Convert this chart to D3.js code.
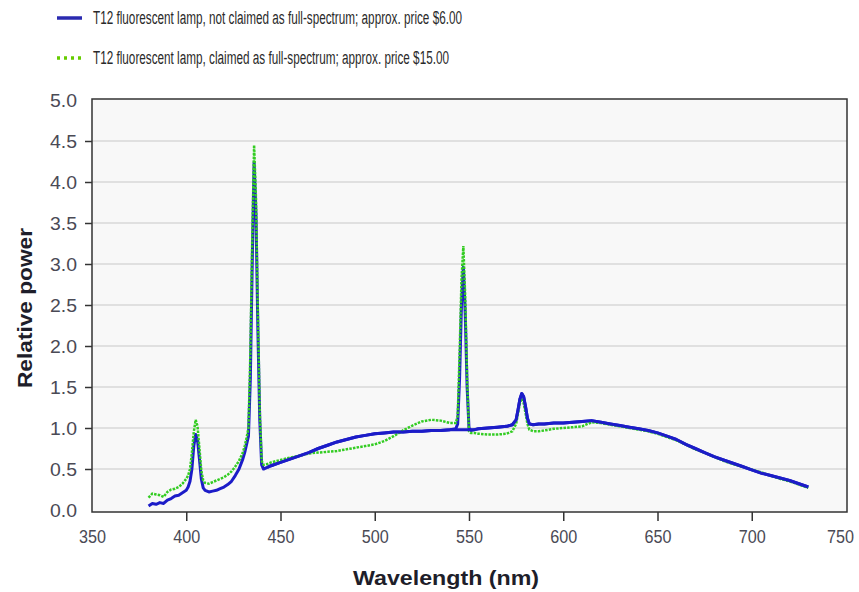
<!DOCTYPE html>
<html>
<head>
<meta charset="utf-8">
<script src="https://cdn.jsdelivr.net/npm/d3@7"></script>
<style>
  body { margin: 0; background: #fff; }
  svg { display: block; }
</style>
</head>
<body>
<div class="chart"></div>
<script>
// data
var wavelengths = [
  380, 382, 384, 386, 388, 390, 392, 394, 396, 398,
  400, 401, 402, 403, 404, 405, 406, 407, 408, 409, 410,
  412, 414, 416, 418, 420, 422, 424, 426, 428, 430,
  431, 432, 433, 434, 435, 436, 437, 438, 439, 440, 441,
  443, 445, 450, 455, 460, 465, 470, 475, 480, 485, 490, 495, 500, 505, 510, 515, 520, 525, 530, 535, 540,
  543, 544, 545, 546, 547, 548, 549, 550, 551,
  553, 555, 560, 565, 570, 573, 575, 576, 577, 578, 579, 580, 581, 582, 584, 587, 590, 595, 600, 605, 610, 615,
  620, 625, 630, 635, 640, 645, 650, 655, 660, 665, 670, 675, 680, 685, 690, 695, 700, 705, 710, 715, 720, 725, 730
];
var notFullSpectrum = [
  0.05, 0.08, 0.07, 0.09, 0.08, 0.12, 0.14, 0.17, 0.18, 0.21,
  0.24, 0.28, 0.35, 0.5, 0.78, 0.92, 0.85, 0.62, 0.38, 0.27, 0.24,
  0.22, 0.23, 0.24, 0.26, 0.28, 0.31, 0.35, 0.42, 0.5, 0.62,
  0.7, 0.8, 0.9, 1.6, 3.0, 4.24, 3.6, 2.2, 1.1, 0.55, 0.5,
  0.52, 0.54, 0.58, 0.62, 0.66, 0.7, 0.75, 0.79, 0.83, 0.86, 0.89, 0.91, 0.93, 0.94, 0.95, 0.95, 0.96, 0.96, 0.97, 0.97, 0.98,
  0.99, 1.05, 1.6, 2.5, 2.96, 2.4, 1.5, 1.0, 0.97,
  0.98, 0.99, 1.0, 1.01, 1.02, 1.04, 1.1, 1.22, 1.35, 1.42, 1.38, 1.26, 1.12, 1.05, 1.04, 1.05, 1.05, 1.06, 1.06, 1.07, 1.08, 1.09,
  1.07, 1.05, 1.03, 1.01, 0.99, 0.97, 0.94, 0.9, 0.86, 0.8, 0.75, 0.7, 0.65, 0.61, 0.57, 0.53, 0.49, 0.45, 0.42, 0.39, 0.36, 0.32, 0.28
];
var fullSpectrum = [
  0.15, 0.2, 0.19, 0.18, 0.16, 0.22, 0.25, 0.26, 0.28, 0.32,
  0.38, 0.42, 0.5, 0.7, 0.95, 1.1, 1.02, 0.75, 0.48, 0.36, 0.33,
  0.32, 0.34, 0.36, 0.38, 0.4, 0.43, 0.47, 0.53, 0.6, 0.7,
  0.78, 0.88, 1.0, 1.9, 3.3, 4.45, 3.8, 2.4, 1.2, 0.6, 0.55,
  0.56, 0.58, 0.61, 0.64, 0.66, 0.69, 0.7, 0.71, 0.72, 0.74, 0.76, 0.78, 0.8, 0.84, 0.9, 0.97, 1.03, 1.08, 1.1, 1.09, 1.06,
  1.06, 1.15, 1.9, 2.8, 3.22, 2.6, 1.6, 0.96, 0.94,
  0.94, 0.93, 0.92, 0.92, 0.93, 0.96, 1.05, 1.18, 1.3, 1.36, 1.3, 1.18, 1.05, 0.98, 0.96, 0.96, 0.97, 0.99, 1.0, 1.01, 1.02, 1.07,
  1.06, 1.04, 1.02, 1.0, 0.98, 0.96, 0.93, 0.89, 0.85, 0.8, 0.74, 0.7, 0.65, 0.6, 0.56, 0.53, 0.49, 0.46, 0.42, 0.38, 0.35, 0.31, 0.27
];
var xTicks = [350, 400, 450, 500, 550, 600, 650, 700, 750];
var yTicks = [0, 0.5, 1, 1.5, 2, 2.5, 3, 3.5, 4, 4.5, 5];
var legendLabels = [
  "T12 fluorescent lamp, not claimed as full-spectrum; approx. price $6.00",
  "T12 fluorescent lamp, claimed as full-spectrum; approx. price $15.00"
];
var legendWidths = [369, 356];

// 基本設定
var w = 859, h = 592;
var pLeft = 92, pRight = 847, pTop = 100, pBottom = 510;
var font = "'Liberation Sans', Arial, sans-serif";

var svg = d3.select(".chart").append("svg")
  .attr("width", w)
  .attr("height", h);

var x = d3.scaleLinear().domain([350, 750]).range([pLeft, pRight - 1]);
var y = d3.scaleLinear().domain([0, 5]).range([pBottom, pTop]);

// plot background
svg.append("rect")
  .attr("x", pLeft).attr("y", pTop - 1)
  .attr("width", pRight - pLeft).attr("height", pBottom - pTop + 3)
  .attr("fill", "#f8f8f8");

// gridlines
svg.append("g").selectAll("line")
  .data(yTicks.filter(function(d) { return d > 0 && d < 5; }))
  .enter().append("line")
  .attr("x1", pLeft).attr("x2", pRight)
  .attr("y1", function(d) { return y(d); })
  .attr("y2", function(d) { return y(d); })
  .attr("stroke", "#c8c8c8")
  .attr("stroke-width", 1.2);

// series
var line = d3.line()
  .x(function(d) { return x(d[0]); })
  .y(function(d) { return y(d[1]); });

var blue = d3.zip(wavelengths, notFullSpectrum);

svg.append("path")
  .datum(blue)
  .attr("d", line)
  .attr("fill", "none")
  .attr("stroke", "#1c1cc8")
  .attr("stroke-width", 3)
  .attr("stroke-linejoin", "round");

svg.append("path")
  .datum(d3.zip(wavelengths, fullSpectrum))
  .attr("d", line)
  .attr("fill", "none")
  .attr("stroke", "#33cc22")
  .attr("stroke-width", 2.5)
  .attr("stroke-dasharray", "2.5,1.2");

// blue again on top in the flat parts
svg.append("path")
  .datum(blue.filter(function(d) { return (d[0] > 441 && d[0] < 543) || d[0] > 551; }))
  .attr("d", line)
  .attr("fill", "none")
  .attr("stroke", "#1c1cc8")
  .attr("stroke-width", 3)
  .attr("stroke-linejoin", "round");

// frame
svg.append("rect")
  .attr("x", pLeft).attr("y", pTop - 1)
  .attr("width", pRight - pLeft).attr("height", pBottom - pTop + 3)
  .attr("fill", "none")
  .attr("stroke", "#333")
  .attr("stroke-width", 1.5);

// axes
var xAxis = svg.append("g")
  .attr("transform", "translate(0," + (pBottom + 2) + ")")
  .call(d3.axisBottom(x).tickValues(xTicks).tickSize(9).tickPadding(9)
    .tickFormat(d3.format("d")));
var yAxis = svg.append("g")
  .attr("transform", "translate(" + pLeft + ",0)")
  .call(d3.axisLeft(y).tickValues(yTicks).tickSize(7).tickPadding(8)
    .tickFormat(d3.format(".1f")));

[xAxis, yAxis].forEach(function(a) {
  a.select(".domain").remove();
  a.selectAll(".tick line").attr("stroke", "#333").attr("stroke-width", 1.5);
  a.selectAll(".tick text")
    .attr("fill", "#4a4a55")
    .attr("textLength", 27)
    .attr("lengthAdjust", "spacingAndGlyphs")
    .style("font-family", font)
    .style("font-size", "19px");
});
xAxis.selectAll(".tick line").filter(function(d) { return d === 350 || d === 750; }).remove();
xAxis.selectAll(".tick text").filter(function(d) { return d === 750; }).attr("dx", -6);
yAxis.selectAll(".tick line").filter(function(d) { return d === 0 || d === 5; }).remove();

// axis titles
svg.append("text")
  .attr("x", 446).attr("y", 585)
  .attr("text-anchor", "middle")
  .attr("fill", "#1e1e2a")
  .attr("textLength", 186)
  .attr("lengthAdjust", "spacingAndGlyphs")
  .style("font-family", font)
  .style("font-weight", "bold")
  .style("font-size", "20px")
  .text("Wavelength (nm)");

svg.append("text")
  .attr("transform", "translate(32,308) rotate(-90)")
  .attr("text-anchor", "middle")
  .attr("fill", "#1e1e2a")
  .attr("textLength", 160)
  .attr("lengthAdjust", "spacingAndGlyphs")
  .style("font-family", font)
  .style("font-weight", "bold")
  .style("font-size", "20px")
  .text("Relative power");

// legend
var legend = svg.append("g").selectAll("g")
  .data(legendLabels)
  .enter().append("g")
  .attr("transform", function(d, i) { return "translate(57," + (18 + i * 40) + ")"; });

legend.append("line")
  .attr("x1", 0).attr("x2", 25)
  .attr("stroke", function(d, i) { return i === 0 ? "#2a2ab0" : "#66cc00"; })
  .attr("stroke-width", 3.5)
  .attr("stroke-dasharray", function(d, i) { return i === 0 ? null : "3,4"; });

legend.append("text")
  .attr("x", 36).attr("y", 6)
  .attr("fill", "#2a2a2a")
  .attr("textLength", function(d, i) { return legendWidths[i]; })
  .attr("lengthAdjust", "spacingAndGlyphs")
  .style("font-family", font)
  .style("font-size", "18px")
  .text(function(d) { return d; });
</script>
</body>
</html>
